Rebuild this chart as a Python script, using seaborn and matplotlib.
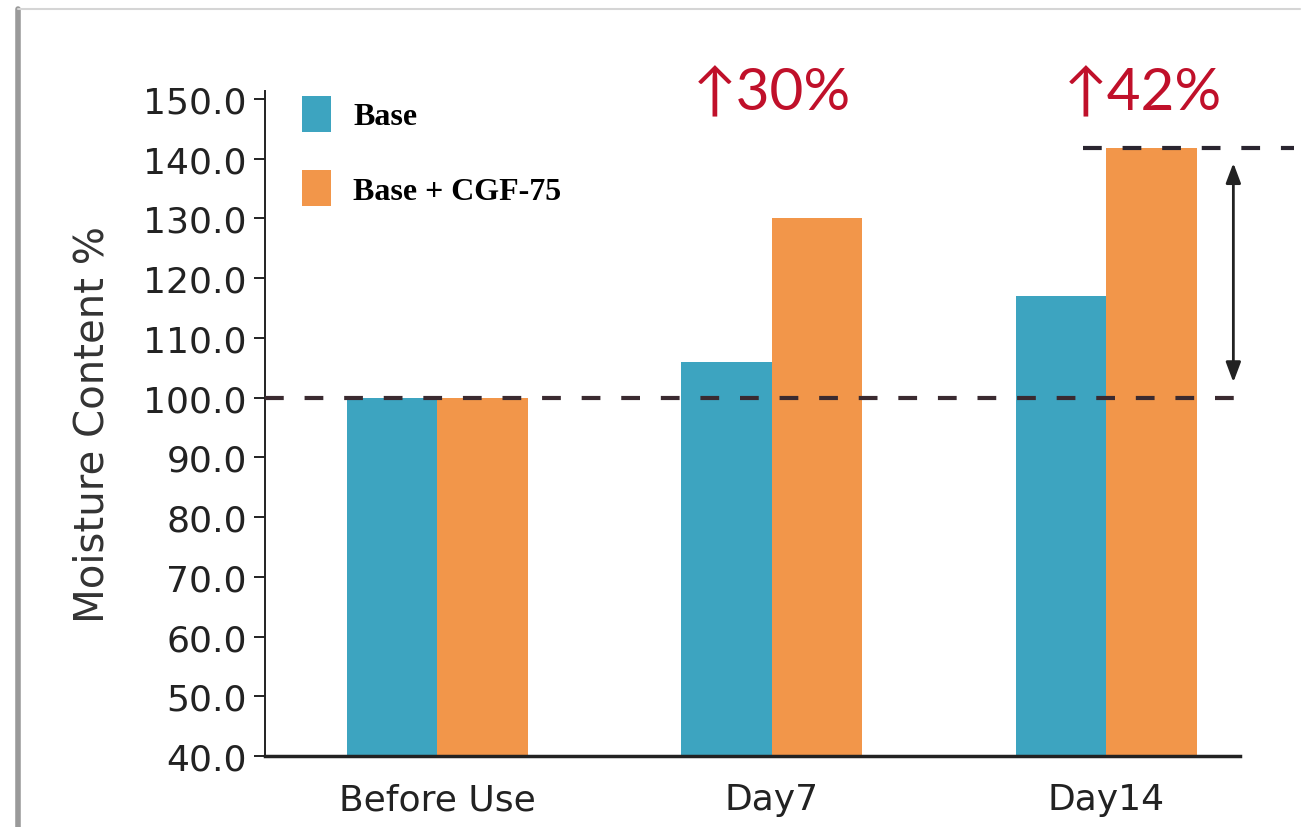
import matplotlib
matplotlib.use("Agg")
import matplotlib.pyplot as plt
from matplotlib.lines import Line2D
import seaborn as sns
import pandas as pd

stages = ["Before Use", "Day7", "Day14"]
base_vals = [100.0, 106.0, 117.0]
cgf_vals = [100.0, 130.0, 141.8]
series = ["Base", "Base + CGF-75"]
gains = ["\u219130%", "\u219142%"]
yticks = [40, 50, 60, 70, 80, 90, 100, 110, 120, 130, 140, 150]

df = pd.DataFrame({
    "stage": stages * 2,
    "value": base_vals + cgf_vals,
    "series": [series[0]] * 3 + [series[1]] * 3,
})

sns.set_style("ticks")
plt.rcParams["font.family"] = ["DejaVu Sans"]

fig = plt.figure(figsize=(13.1, 8.28), dpi=100)
ax = fig.add_axes([0.2023, 0.0857, 0.7443, 0.8032])

sns.barplot(data=df, x="stage", y="value", hue="series", order=stages,
            hue_order=series, palette={"Base": "#3DA4C0", "Base + CGF-75": "#F2964A"},
            width=0.54, gap=0, saturation=1, errorbar=None, linewidth=0, ax=ax)

ax.set_xlim(-0.515, 2.40)
ax.set_ylim(40, 151.3)
ax.set_yticks(yticks)
ax.set_yticklabels([f"{t:.1f}" for t in yticks])
ax.tick_params(axis="y", labelsize=26, length=8, width=1.4, pad=5, colors="#222222")
ax.tick_params(axis="x", labelsize=26, length=0, pad=19, colors="#222222")
ax.set_xlabel("")
ax.set_ylabel("Moisture Content %", fontsize=29, color="#333333", labelpad=22)
sns.despine(ax=ax)
ax.spines["left"].set_linewidth(1.4)
ax.spines["bottom"].set_linewidth(2.5)
ax.spines["left"].set_color("#222222")
ax.spines["bottom"].set_color("#222222")

# baseline at 100 and top reference line
ax.axhline(base_vals[0], color="#3a2a30", lw=3, ls=(0, (4.5, 5)), zorder=3)
ax.plot([1.93, 2.56], [cgf_vals[2], cgf_vals[2]], color="#2a2530", lw=3,
        ls=(0, (4.5, 5)), clip_on=False, zorder=3)
ax.annotate("", xy=(2.38, cgf_vals[2]), xytext=(2.38, base_vals[0]),
            arrowprops=dict(arrowstyle="<|-|>,head_length=1.2,head_width=0.45",
                            color="#222222", lw=2, shrinkA=11, shrinkB=11))

# percentage gains
ax.text(1.0, 150.9, gains[0], color="#C0102A", fontsize=42, ha="center",
        va="center", family=["Lato", "DejaVu Sans"], clip_on=False)
ax.text(2.11, 150.9, gains[1], color="#C0102A", fontsize=42, ha="center",
        va="center", family=["Lato", "DejaVu Sans"], clip_on=False)

sns.move_legend(ax, "upper left", bbox_to_anchor=(0.211, 0.914),
                bbox_transform=fig.transFigure, title=None, frameon=True,
                facecolor="white", edgecolor="none", framealpha=1,
                prop={"family": "Liberation Serif", "weight": "bold", "size": 23},
                labelcolor="black",
                handlelength=0.9, handleheight=1.35, handletextpad=0.7,
                labelspacing=1.2, borderpad=0.3)

# screenshot frame
fig.add_artist(Line2D([0.014, 0.014], [0.0, 0.988], transform=fig.transFigure,
                      color="#9a9a9a", lw=4))
fig.add_artist(Line2D([0.014, 0.992], [0.988, 0.988], transform=fig.transFigure,
                      color="#d5d5d5", lw=1.5))

fig.savefig("out.png", dpi=100)
